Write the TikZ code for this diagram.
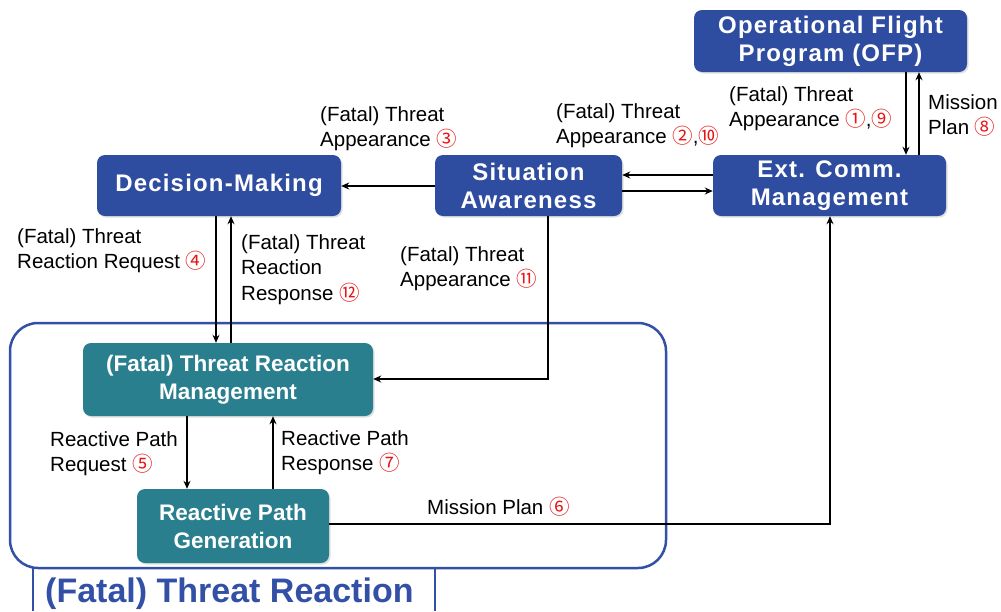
\documentclass[tikz,border=0pt]{standalone}
\usepackage{fontspec}
\setmainfont{Liberation Sans}
\newfontfamily\boxfont[LetterSpace=5]{Liberation Sans}
\newfontfamily\cjk{Noto Sans CJK KR}
\usetikzlibrary{arrows.meta,shadows}
\definecolor{boxblue}{RGB}{47,77,160}
\definecolor{boxteal}{RGB}{42,127,143}
\definecolor{frameblue}{RGB}{50,80,165}
\definecolor{numred}{RGB}{230,20,20}
\newcommand\cnum[1]{{\cjk\color{numred}#1}}
\tikzset{
  basebox/.style={rounded corners=8pt, text=white, align=center, inner sep=0pt,
    drop shadow={opacity=0.25, shadow xshift=1.5pt, shadow yshift=-1.5pt}},
  bluebox/.style={basebox, fill=boxblue, font=\boxfont\bfseries\fontsize{24}{28}\selectfont},
  tealbox/.style={basebox, fill=boxteal, font=\bfseries\fontsize{22.5}{28}\selectfont},
  lbl/.style={anchor=north west, align=left, inner sep=0pt, font=\fontsize{20.5}{25.5}\selectfont},
  arr/.style={line width=1.6pt, -{Stealth[length=8pt,width=7pt]}},
}
\begin{document}
\begin{tikzpicture}[x=1pt,y=-1pt]
\useasboundingbox (0,0) rectangle (1001,611);

% grouping frame with its caption tab
\draw[frameblue, line width=2.5pt, rounded corners=28pt] (10,323) rectangle (666,568);
\draw[frameblue, line width=2.5pt] (33,611) -- (33,568) (435,568) -- (435,611);
\node[anchor=west, inner sep=0pt, text=frameblue, font=\bfseries\fontsize{34}{38}\selectfont] (title) at (45,594) {(Fatal) Threat Reaction};

% functional blocks
\node[bluebox, minimum width=273pt, minimum height=62pt] (ofp) at (830.5,41) {Operational Flight\\Program (OFP)};
\node[bluebox, minimum width=233pt, minimum height=61pt] (ext) at (829.5,185.5) {Ext. Comm.\\Management};
\node[bluebox, minimum width=187pt, minimum height=61pt] (sa) at (528.5,185.5) {Situation\\Awareness};
\node[bluebox, minimum width=244pt, minimum height=61pt] (dm) at (219,185.5) {Decision-Making};
\node[tealbox, minimum width=290pt, minimum height=73pt] (trm) at (228,379.5) {(Fatal) Threat Reaction\\Management};
\node[tealbox, minimum width=192pt, minimum height=74pt] (rpg) at (233,526) {Reactive Path\\Generation};

% message flows
\draw[arr] (906,0 |- ofp.south) -- (906,0 |- ext.north);
\draw[arr] (919,0 |- ext.north) -- (919,0 |- ofp.south);
\draw[arr] (ext.west |- 0,175) -- (sa.east |- 0,175);
\draw[arr] (sa.east |- 0,191) -- (ext.west |- 0,191);
\draw[arr] (sa.west |- 0,186) -- (dm.east |- 0,186);
\draw[arr] (216,0 |- dm.south) -- (216,0 |- trm.north);
\draw[arr] (231,0 |- trm.north) -- (231,0 |- dm.south);
\draw[arr] (548,0 |- sa.south) |- (trm.east |- 0,379);
\draw[arr] (187,0 |- trm.south) -- (187,0 |- rpg.north);
\draw[arr] (273,0 |- rpg.north) -- (273,0 |- trm.south);
\draw[arr] (rpg.east |- 0,524) -| (830,0 |- ext.south);

% flow labels
\node[lbl] (l1) at (729,86) {(Fatal) Threat\\Appearance \cnum{①},\cnum{⑨}};
\node[lbl] (l8) at (928,94) {Mission\\Plan \cnum{⑧}};
\node[lbl] (l2) at (556,103) {(Fatal) Threat\\Appearance \cnum{②},\cnum{⑩}};
\node[lbl] (l3) at (320,106) {(Fatal) Threat\\Appearance \cnum{③}};
\node[lbl] (l4) at (17,228) {(Fatal) Threat\\Reaction Request \cnum{④}};
\node[lbl] (l12) at (241,234) {(Fatal) Threat\\Reaction\\Response \cnum{⑫}};
\node[lbl] (l11) at (400,246) {(Fatal) Threat\\Appearance \cnum{⑪}};
\node[lbl] (l5) at (50,431) {Reactive Path\\Request \cnum{⑤}};
\node[lbl] (l7) at (281,430) {Reactive Path\\Response \cnum{⑦}};
\node[lbl] (l6) at (427,497) {Mission Plan \cnum{⑥}};
\end{tikzpicture}
\end{document}
